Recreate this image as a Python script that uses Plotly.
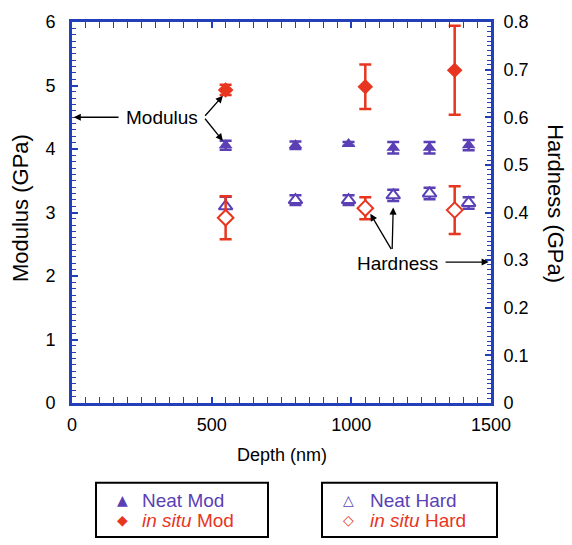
import plotly.graph_objects as go

# Depth positions (nm) and measured values
neat_depth = [550, 800, 990, 1150, 1280, 1420]
neat_mod = [4.06, 4.06, 4.08, 4.02, 4.02, 4.06]
neat_mod_err = [0.07, 0.06, 0.03, 0.09, 0.09, 0.08]
neat_hard = [0.413, 0.426, 0.426, 0.436, 0.44, 0.42]
neat_hard_err = [0.02, 0.01, 0.01, 0.012, 0.012, 0.012]

insitu_depth = [550, 1050, 1370]
insitu_mod = [4.93, 4.98, 5.24]
insitu_mod_err = [0.08, 0.35, 0.7]
insitu_hard = [0.389, 0.409, 0.405]
insitu_hard_err = [0.045, 0.023, 0.05]

legend_groups = [
    [("▲", "Neat Mod", "neat"), ("◆", "<i>in situ</i> Mod", "insitu")],
    [("△", "Neat Hard", "neat"), ("◇", "<i>in situ</i> Hard", "insitu")],
]

BLUE = "#2340b8"
PURPLE = "#5a3fb5"
RED = "#e8351f"
FONT = "Liberation Sans, Arial, sans-serif"
COLORS = {"neat": PURPLE, "insitu": RED}

# plot area in pixels (left, right, top, bottom)
L, R, T, B = 72, 491, 16, 403


def px_x(p):
    return (p - L) / (R - L)


def px_y(p):
    return (B - p) / (B - T)


fig = go.Figure()

fig.add_trace(go.Scatter(
    x=neat_depth, y=neat_mod, mode="markers", name="Neat Mod",
    marker=dict(symbol="triangle-up", size=12, color=PURPLE),
    error_y=dict(type="data", array=neat_mod_err, color=PURPLE, thickness=2.5, width=6),
))
fig.add_trace(go.Scatter(
    x=insitu_depth, y=insitu_mod, mode="markers", name="in situ Mod",
    marker=dict(symbol="diamond", size=12, color=RED),
    error_y=dict(type="data", array=insitu_mod_err, color=RED, thickness=2.5, width=6),
))
fig.add_trace(go.Scatter(
    x=neat_depth, y=neat_hard, mode="markers", yaxis="y2", name="Neat Hard",
    marker=dict(symbol="triangle-up", size=12, color="white", line=dict(color=PURPLE, width=2)),
    error_y=dict(type="data", array=neat_hard_err, color=PURPLE, thickness=2.5, width=6),
))
fig.add_trace(go.Scatter(
    x=insitu_depth, y=insitu_hard, mode="markers", yaxis="y2", name="in situ Hard",
    marker=dict(symbol="diamond", size=12, color="white", line=dict(color=RED, width=2)),
    error_y=dict(type="data", array=insitu_hard_err, color=RED, thickness=2.5, width=6),
))

annotations = []


def arrow(x0, y0, x1, y1):
    # arrow drawn from (x0, y0) to a head at (x1, y1), in data units
    annotations.append(dict(
        x=x1, y=y1, ax=x0, ay=y0, xref="x", yref="y", axref="x", ayref="y",
        text="", showarrow=True, arrowhead=2, arrowsize=1.1, arrowwidth=1.3,
        arrowcolor="black",
    ))


def label(x, y, text, size, angle=0, xanchor="center", ref="paper"):
    annotations.append(dict(x=x, y=y, xref=ref, yref=ref if ref == "paper" else "y",
                            text=text, textangle=angle, showarrow=False,
                            xanchor=xanchor, yanchor="middle",
                            font=dict(family=FONT, size=size, color="black")))


# Callout labels
annotations.append(dict(x=322, y=4.5, xref="x", yref="y", text="Modulus", showarrow=False,
                        xanchor="center", yanchor="middle",
                        font=dict(family=FONT, size=19, color="black")))
arrow(172, 4.5, 6, 4.5)
arrow(472, 4.5, 540, 4.84)
arrow(472, 4.5, 540, 4.13)

annotations.append(dict(x=1167, y=2.19, xref="x", yref="y", text="Hardness", showarrow=False,
                        xanchor="center", yanchor="middle",
                        font=dict(family=FONT, size=19, color="black")))
arrow(1332, 2.22, 1492, 2.22)
arrow(1146, 2.4, 1068, 2.98)
arrow(1146, 2.4, 1150, 3.08)

# Axis titles
label(px_x(20), px_y(205), "Modulus (GPa)", 22, angle=-90)
label(px_x(556), px_y(200), "Hardness (GPa)", 22, angle=90)
label(0.5, px_y(456), "Depth (nm)", 18)

# Legend boxes with marker glyphs and coloured labels
box_left = [96, 322]
box_right = [268, 497]
glyph_x = [122, 348]
text_x = [140, 368]
row_y = [502, 522]
shapes = []
for g, entries in enumerate(legend_groups):
    shapes.append(dict(type="rect", xref="paper", yref="paper",
                       x0=px_x(box_left[g]), x1=px_x(box_right[g]),
                       y0=px_y(539), y1=px_y(484), line=dict(color="black", width=2)))
    for r, (glyph, text, key) in enumerate(entries):
        c = COLORS[key]
        annotations.append(dict(x=px_x(glyph_x[g]), y=px_y(row_y[r]), xref="paper", yref="paper",
                                text=glyph, showarrow=False, xanchor="center", yanchor="middle",
                                font=dict(family="DejaVu Sans", size=14, color=c)))
        annotations.append(dict(x=px_x(text_x[g]), y=px_y(row_y[r]), xref="paper", yref="paper",
                                text=text, showarrow=False, xanchor="left", yanchor="middle",
                                font=dict(family=FONT, size=19, color=c)))

tickfont = dict(family=FONT, size=18, color="black")

fig.update_layout(
    width=572, height=545,
    margin=dict(l=L, r=572 - R, t=T, b=545 - B),
    paper_bgcolor="white", plot_bgcolor="white",
    showlegend=False,
    font=dict(family=FONT, size=18, color="black"),
    xaxis=dict(
        range=[0, 1500], dtick=500, tickfont=tickfont, showgrid=False, zeroline=False,
        showline=True, linecolor=BLUE, linewidth=3, mirror="allticks",
        ticks="inside", ticklen=6, tickcolor=BLUE, tickwidth=1.5, ticklabelstandoff=3,
        minor=dict(dtick=50, ticks="inside", ticklen=4, tickcolor=BLUE, tickwidth=1.2),
    ),
    yaxis=dict(
        range=[0, 6], dtick=1, tickfont=tickfont, showgrid=False, zeroline=False,
        showline=True, linecolor=BLUE, linewidth=3,
        ticks="inside", ticklen=6, tickcolor=BLUE, tickwidth=1.5, ticklabelstandoff=10,
        minor=dict(dtick=0.1, ticks="inside", ticklen=4, tickcolor=BLUE, tickwidth=1.2),
    ),
    yaxis2=dict(
        range=[0, 0.8], dtick=0.1, overlaying="y", side="right", tickfont=tickfont,
        showgrid=False, zeroline=False, showline=True, linecolor=BLUE, linewidth=3,
        ticks="inside", ticklen=6, tickcolor=BLUE, tickwidth=1.5, ticklabelstandoff=6,
        minor=dict(dtick=0.01, ticks="inside", ticklen=4, tickcolor=BLUE, tickwidth=1.2),
    ),
    annotations=annotations,
    shapes=shapes,
)

fig.write_html("out.html")
